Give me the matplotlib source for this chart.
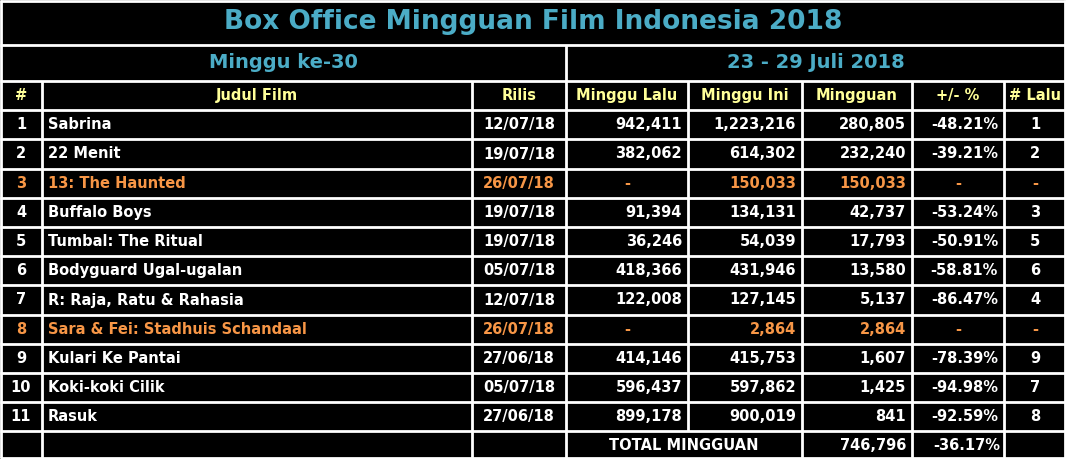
import matplotlib.pyplot as plt
from matplotlib.patches import Rectangle

ranks = ['1', '2', '3', '4', '5', '6', '7', '8', '9', '10', '11']
titles = ['Sabrina', '22 Menit', '13: The Haunted', 'Buffalo Boys', 'Tumbal: The Ritual',
          'Bodyguard Ugal-ugalan', 'R: Raja, Ratu & Rahasia', 'Sara & Fei: Stadhuis Schandaal',
          'Kulari Ke Pantai', 'Koki-koki Cilik', 'Rasuk']
release = ['12/07/18', '19/07/18', '26/07/18', '19/07/18', '19/07/18', '05/07/18',
           '12/07/18', '26/07/18', '27/06/18', '05/07/18', '27/06/18']
last_week = ['942,411', '382,062', '-', '91,394', '36,246', '418,366', '122,008', '-',
             '414,146', '596,437', '899,178']
this_week = ['1,223,216', '614,302', '150,033', '134,131', '54,039', '431,946', '127,145',
             '2,864', '415,753', '597,862', '900,019']
weekly = ['280,805', '232,240', '150,033', '42,737', '17,793', '13,580', '5,137', '2,864',
          '1,607', '1,425', '841']
change = ['-48.21%', '-39.21%', '-', '-53.24%', '-50.91%', '-58.81%', '-86.47%', '-',
          '-78.39%', '-94.98%', '-92.59%']
prev_rank = ['1', '2', '-', '3', '5', '6', '4', '-', '9', '7', '8']
new_rows = [2, 7]
headers = ['#', 'Judul Film', 'Rilis', 'Minggu Lalu', 'Minggu Ini', 'Mingguan', '+/- %', '# Lalu']
total_weekly = '746,796'
total_change = '-36.17%'

W, H = 1066, 459
fig = plt.figure(figsize=(W / 100, H / 100), dpi=100, facecolor='black')
ax = fig.add_axes([0, 0, 1, 1])
ax.set_xlim(0, W)
ax.set_ylim(H, 0)
ax.axis('off')
ax.add_patch(Rectangle((0, 0), W, H, color='black'))

xs = [0, 42, 472, 566, 688, 802, 912, 1004, 1066]
row_top = 81
rh = 29.2
blue = '#4BACC6'
yellow = '#FFFF99'
orange = '#F79646'
font = 'DejaVu Sans'
lw = 2


def hline(y, x0=0, x1=W):
    ax.plot([x0, x1], [y, y], color='white', lw=lw, solid_capstyle='butt')


def vline(x, y0, y1):
    ax.plot([x, x], [y0, y1], color='white', lw=lw, solid_capstyle='butt')


def txt(x, y, s, color='white', ha='center', size=10.5):
    ax.text(x, y, s, color=color, ha=ha, va='center', fontsize=size,
            fontweight='bold', family=font)


# title and subheader
txt(W / 2, 22, 'Box Office Mingguan Film Indonesia 2018', blue, size=19)
hline(45)
vline(566, 45, 81)
txt(283, 63, 'Minggu ke-30', blue, size=14)
txt(816, 63, '23 - 29 Juli 2018', blue, size=14)
hline(81)

# header row
yc = row_top + rh / 2
for i, h in enumerate(headers):
    txt((xs[i] + xs[i + 1]) / 2, yc, h, yellow)

cols = [ranks, titles, release, last_week, this_week, weekly, change, prev_rank]
aligns = ['center', 'left', 'center', 'right', 'right', 'right', 'right', 'center']
for r in range(len(ranks)):
    top = row_top + rh * (r + 1)
    hline(top)
    yc = top + rh / 2
    color = orange if r in new_rows else 'white'
    for c, col in enumerate(cols):
        a = 'center' if col[r] == '-' else aligns[c]
        x = {'center': (xs[c] + xs[c + 1]) / 2, 'left': xs[c] + 6, 'right': xs[c + 1] - 6}[a]
        txt(x, yc, col[r], color, ha=a)

# total row
top = row_top + rh * (len(ranks) + 1)
hline(top)
yc = top + rh / 2
txt((xs[3] + xs[5]) / 2, yc, 'TOTAL MINGGUAN')
txt(xs[6] - 6, yc, total_weekly, ha='right')
txt(xs[7] - 4, yc, total_change, ha='right')
bottom = H - 1
hline(bottom)

for i, x in enumerate(xs[1:-1], start=1):
    if i == 4:
        vline(x, row_top, top)
        continue
    vline(x, row_top, bottom)
vline(1, 0, bottom)
vline(W - 1, 0, bottom)
hline(1)

fig.savefig('out.png', dpi=100, facecolor='black')
